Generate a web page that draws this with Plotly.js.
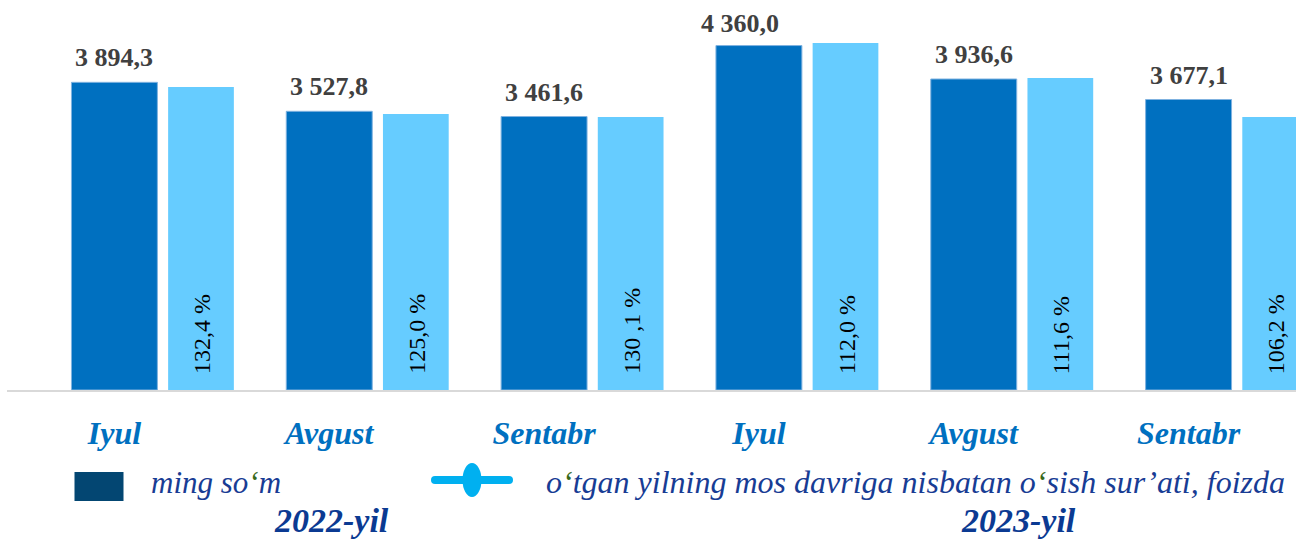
<!DOCTYPE html>
<html>
<head>
<meta charset="utf-8">
<script src="https://cdn.plot.ly/plotly-3.0.1.min.js"></script>
<style>html,body{margin:0;padding:0;background:#fff;}#chart{width:1300px;height:540px;}</style>
</head>
<body>
<div id="chart"></div>
<script>
// ---- data ----
const categories = ['Iyul', 'Avgust', 'Sentabr', 'Iyul', 'Avgust', 'Sentabr'];
const yearLabels = ['2022-yil', '2023-yil'];
const wageValues = [3894.3, 3527.8, 3461.6, 4360.0, 3936.6, 3677.1];
const wageLabels = ['3 894,3', '3 527,8', '3 461,6', '4 360,0', '3 936,6', '3 677,1'];
const growthBarHeights = [3835, 3494, 3456, 4392, 3949, 3456];
const growthLabels = ['132,4 %', '125,0 %', '130 ,1 %', '112,0 %', '111,6 %', '106,2 %'];
const legendLabels = ['ming so‘m', 'o‘tgan yilning mos davriga nisbatan o‘sish sur’ati, foizda'];

// ---- styling ----
const DARK = '#0070C0', LIGHT = '#66CCFF', LINEBLUE = '#00B0F0';
const TXTBLUE = '#183C94', GREEN = '#38691A';
const SERIF = 'Liberation Serif, Times New Roman, serif';
const W = 1300, H = 540, ML = 7, MR = 4, MT = 10, MB = 150;
const PW = W - ML - MR, PH = H - MT - MB;
const px = v => (v - ML) / PW;
const py = v => (H - MB - v) / PH;
const greenQuote = s => s.replace(/‘/g, '<span style="color:' + GREEN + '">‘</span>');

const xs = categories.map((_, i) => i);
// small per-label nudges for value labels (pixels)
const labelNudgeX = [0, 0, 0, -19, 0, 0];
const labelNudgeY = [0, 0, 0, -2, 0, 0];

const traces = [
  {
    type: 'bar', x: xs, y: wageValues, width: 0.4, offset: -0.2,
    marker: {color: DARK, line: {color: '#7FB2E0', width: 1}},
    hoverinfo: 'skip', showlegend: false
  },
  {
    type: 'bar', x: xs, y: growthBarHeights, width: 0.306, offset: 0.25,
    marker: {color: LIGHT, line: {width: 0}}, cliponaxis: false,
    hoverinfo: 'skip', showlegend: false
  }
];

const annotations = [];
xs.forEach((x, i) => {
  annotations.push({
    x: x, y: wageValues[i], xref: 'x', yref: 'y', text: wageLabels[i],
    showarrow: false, xanchor: 'center', yanchor: 'bottom',
    xshift: labelNudgeX[i], yshift: 8 + labelNudgeY[i],
    font: {family: SERIF, size: 26, color: '#404040', weight: 'bold'}
  });
  annotations.push({
    x: x + 0.25 + 0.153, y: 0, xref: 'x', yref: 'y', text: growthLabels[i],
    showarrow: false, textangle: -90, xanchor: 'center', yanchor: 'bottom',
    yshift: 14, xshift: 1,
    font: {family: SERIF, size: 24, color: '#000000'}
  });
});

// legend texts
annotations.push({
  xref: 'paper', yref: 'paper', x: px(149), y: py(482), xanchor: 'left', yanchor: 'middle',
  text: greenQuote(legendLabels[0]), showarrow: false,
  font: {family: SERIF, size: 31, color: TXTBLUE, style: 'italic'}
});
annotations.push({
  xref: 'paper', yref: 'paper', x: px(544), y: py(482), xanchor: 'left', yanchor: 'middle',
  text: greenQuote(legendLabels[1]), showarrow: false,
  font: {family: SERIF, size: 32, color: TXTBLUE, style: 'italic'}
});
// year labels
[[331, yearLabels[0]], [1018, yearLabels[1]]].forEach(([cx, t]) => {
  annotations.push({
    xref: 'paper', yref: 'paper', x: px(cx), y: py(539.5), xanchor: 'center', yanchor: 'bottom',
    text: t, showarrow: false, borderpad: 0,
    font: {family: SERIF, size: 34, color: '#0B3A92', weight: 'bold', style: 'italic'}
  });
});

const shapes = [
  // legend square
  {type: 'rect', xref: 'paper', yref: 'paper', x0: px(74.5), x1: px(123.5), y0: py(501), y1: py(472),
   fillcolor: '#034672', line: {width: 0}},
  // legend line (rounded)
  {type: 'path', xref: 'paper', yref: 'paper',
   path: (() => {
     const x0 = 431, x1 = 513, yc = 480, r = 4;
     return 'M' + px(x0 + r) + ',' + py(yc - r) + ' L' + px(x1 - r) + ',' + py(yc - r) +
       ' Q' + px(x1) + ',' + py(yc - r) + ' ' + px(x1) + ',' + py(yc) +
       ' Q' + px(x1) + ',' + py(yc + r) + ' ' + px(x1 - r) + ',' + py(yc + r) +
       ' L' + px(x0 + r) + ',' + py(yc + r) +
       ' Q' + px(x0) + ',' + py(yc + r) + ' ' + px(x0) + ',' + py(yc) +
       ' Q' + px(x0) + ',' + py(yc - r) + ' ' + px(x0 + r) + ',' + py(yc - r) + ' Z';
   })(),
   fillcolor: LINEBLUE, line: {width: 0}},
  // legend marker ellipse
  {type: 'circle', xref: 'paper', yref: 'paper', x0: px(462.5), x1: px(481.5), y0: py(497), y1: py(463),
   fillcolor: LINEBLUE, line: {width: 0}}
];

const layout = {
  width: W, height: H,
  margin: {l: ML, r: MR, t: MT, b: MB, pad: 0},
  paper_bgcolor: '#ffffff', plot_bgcolor: '#ffffff',
  barmode: 'overlay',
  showlegend: false,
  xaxis: {
    range: [-0.5, 5.5], tickvals: xs, ticktext: categories,
    showgrid: false, zeroline: false, showline: true, linecolor: '#D9D9D9', linewidth: 2,
    ticks: '', ticklabelstandoff: 14,
    tickfont: {family: SERIF, size: 32, color: DARK, weight: 'bold', style: 'italic'},
    fixedrange: true
  },
  yaxis: {range: [0, 4810], visible: false, fixedrange: true},
  annotations: annotations,
  shapes: shapes
};

Plotly.newPlot('chart', traces, layout, {staticPlot: true, displayModeBar: false});
</script>
</body>
</html>
